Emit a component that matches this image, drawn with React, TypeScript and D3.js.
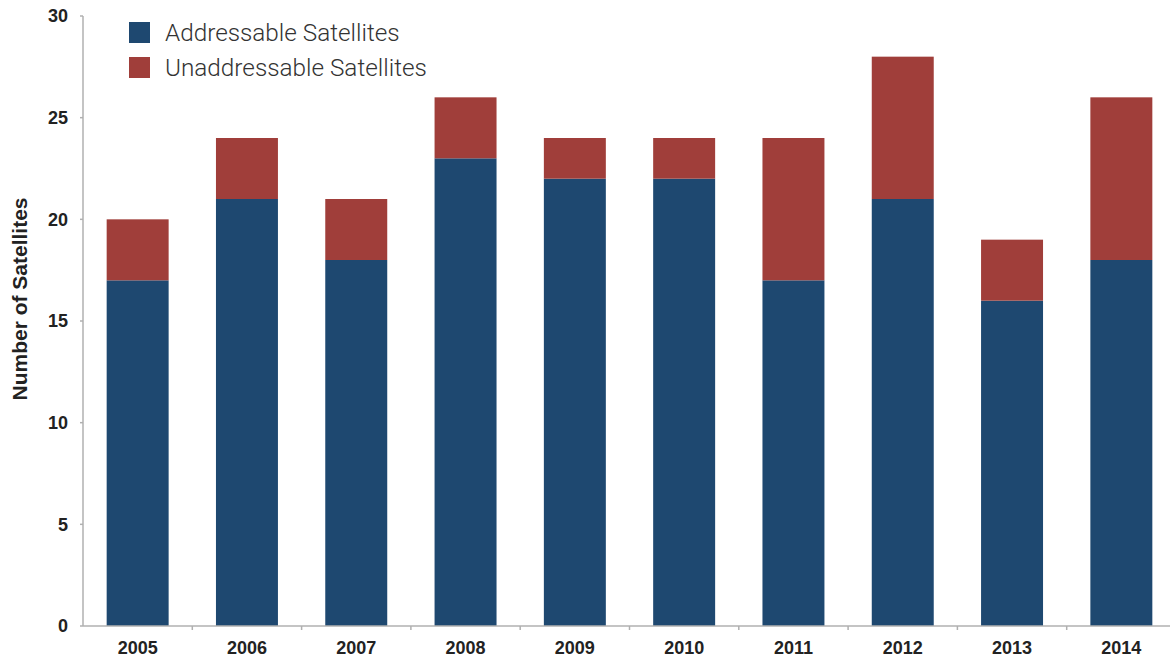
import React from "react";
import * as d3 from "d3";

const years = ["2005", "2006", "2007", "2008", "2009", "2010", "2011", "2012", "2013", "2014"];
const addressable = [17, 21, 18, 23, 22, 22, 17, 21, 16, 18];
const unaddressable = [3, 3, 3, 3, 2, 2, 7, 7, 3, 8];
const yTicks = [0, 5, 10, 15, 20, 25, 30];
const seriesNames = ["Addressable Satellites", "Unaddressable Satellites"];
const colors = ["#1e4870", "#a03e3a"];

const W = 1170;
const H = 660;
const x0 = 83;
const stepPx = 109.3;

export default function App() {
  const x = d3
    .scaleBand<string>()
    .domain(years)
    .range([x0, x0 + stepPx * years.length])
    .paddingInner(0.433)
    .paddingOuter(0.2165);
  const y = d3.scaleLinear().domain([0, 30]).range([626, 16]);

  const table = years.map((yr, i) => ({ year: yr, a: addressable[i], u: unaddressable[i] }));
  const stack = d3.stack<any>().keys(["a", "u"])(table);

  return (
    <svg width={W} height={H} style={{ position: "absolute", left: 0, top: 0, background: "#fff" }}>
      {stack.map((layer, li) =>
        layer.map((d, i) => (
          <rect
            key={`${li}-${i}`}
            x={x(years[i])}
            width={x.bandwidth()}
            y={y(d[1])}
            height={y(d[0]) - y(d[1])}
            fill={colors[li]}
          />
        ))
      )}
      <line x1={x0} x2={x0} y1={y(30)} y2={y(0)} stroke="#b0b0b0" strokeWidth={1.5} />
      {yTicks.map((t) => (
        <g key={t}>
          <line x1={x0 - 3} x2={x0} y1={y(t)} y2={y(t)} stroke="#b0b0b0" strokeWidth={1.5} />
          <text
            x={68}
            y={y(t)}
            dy="0.35em"
            textAnchor="end"
            fontFamily="Liberation Sans, Arial, sans-serif"
            fontWeight="bold"
            fontSize={18}
            fill="#222"
          >
            {t}
          </text>
        </g>
      ))}
      <line x1={x0} x2={W} y1={y(0)} y2={y(0)} stroke="#b0b0b0" strokeWidth={1.5} />
      {years.map((yr, i) => (
        <g key={yr}>
          <line
            x1={x0 + stepPx * (i + 1)}
            x2={x0 + stepPx * (i + 1)}
            y1={y(0)}
            y2={y(0) + 4}
            stroke="#b0b0b0"
            strokeWidth={1.5}
          />
          <text
            x={(x(yr) as number) + x.bandwidth() / 2}
            y={654}
            textAnchor="middle"
            fontFamily="Liberation Sans, Arial, sans-serif"
            fontWeight="bold"
            fontSize={18}
            fill="#222"
          >
            {yr}
          </text>
        </g>
      ))}
      <text
        transform="translate(27,299) rotate(-90)"
        textAnchor="middle"
        fontFamily="Liberation Sans, Arial, sans-serif"
        fontWeight="bold"
        fontSize={21}
        fill="#222"
      >
        Number of Satellites
      </text>
      {seriesNames.map((name, i) => (
        <g key={name} transform={`translate(129, ${22 + i * 35})`}>
          <rect x={0} y={0} width={21} height={21} fill={colors[i]} />
          <text
            x={36}
            y={18.5}
            fontFamily="Roboto, Liberation Sans, Arial, sans-serif"
            fontWeight={300}
            fontSize={24.3}
            fill="#333"
          >
            {name}
          </text>
        </g>
      ))}
    </svg>
  );
}
